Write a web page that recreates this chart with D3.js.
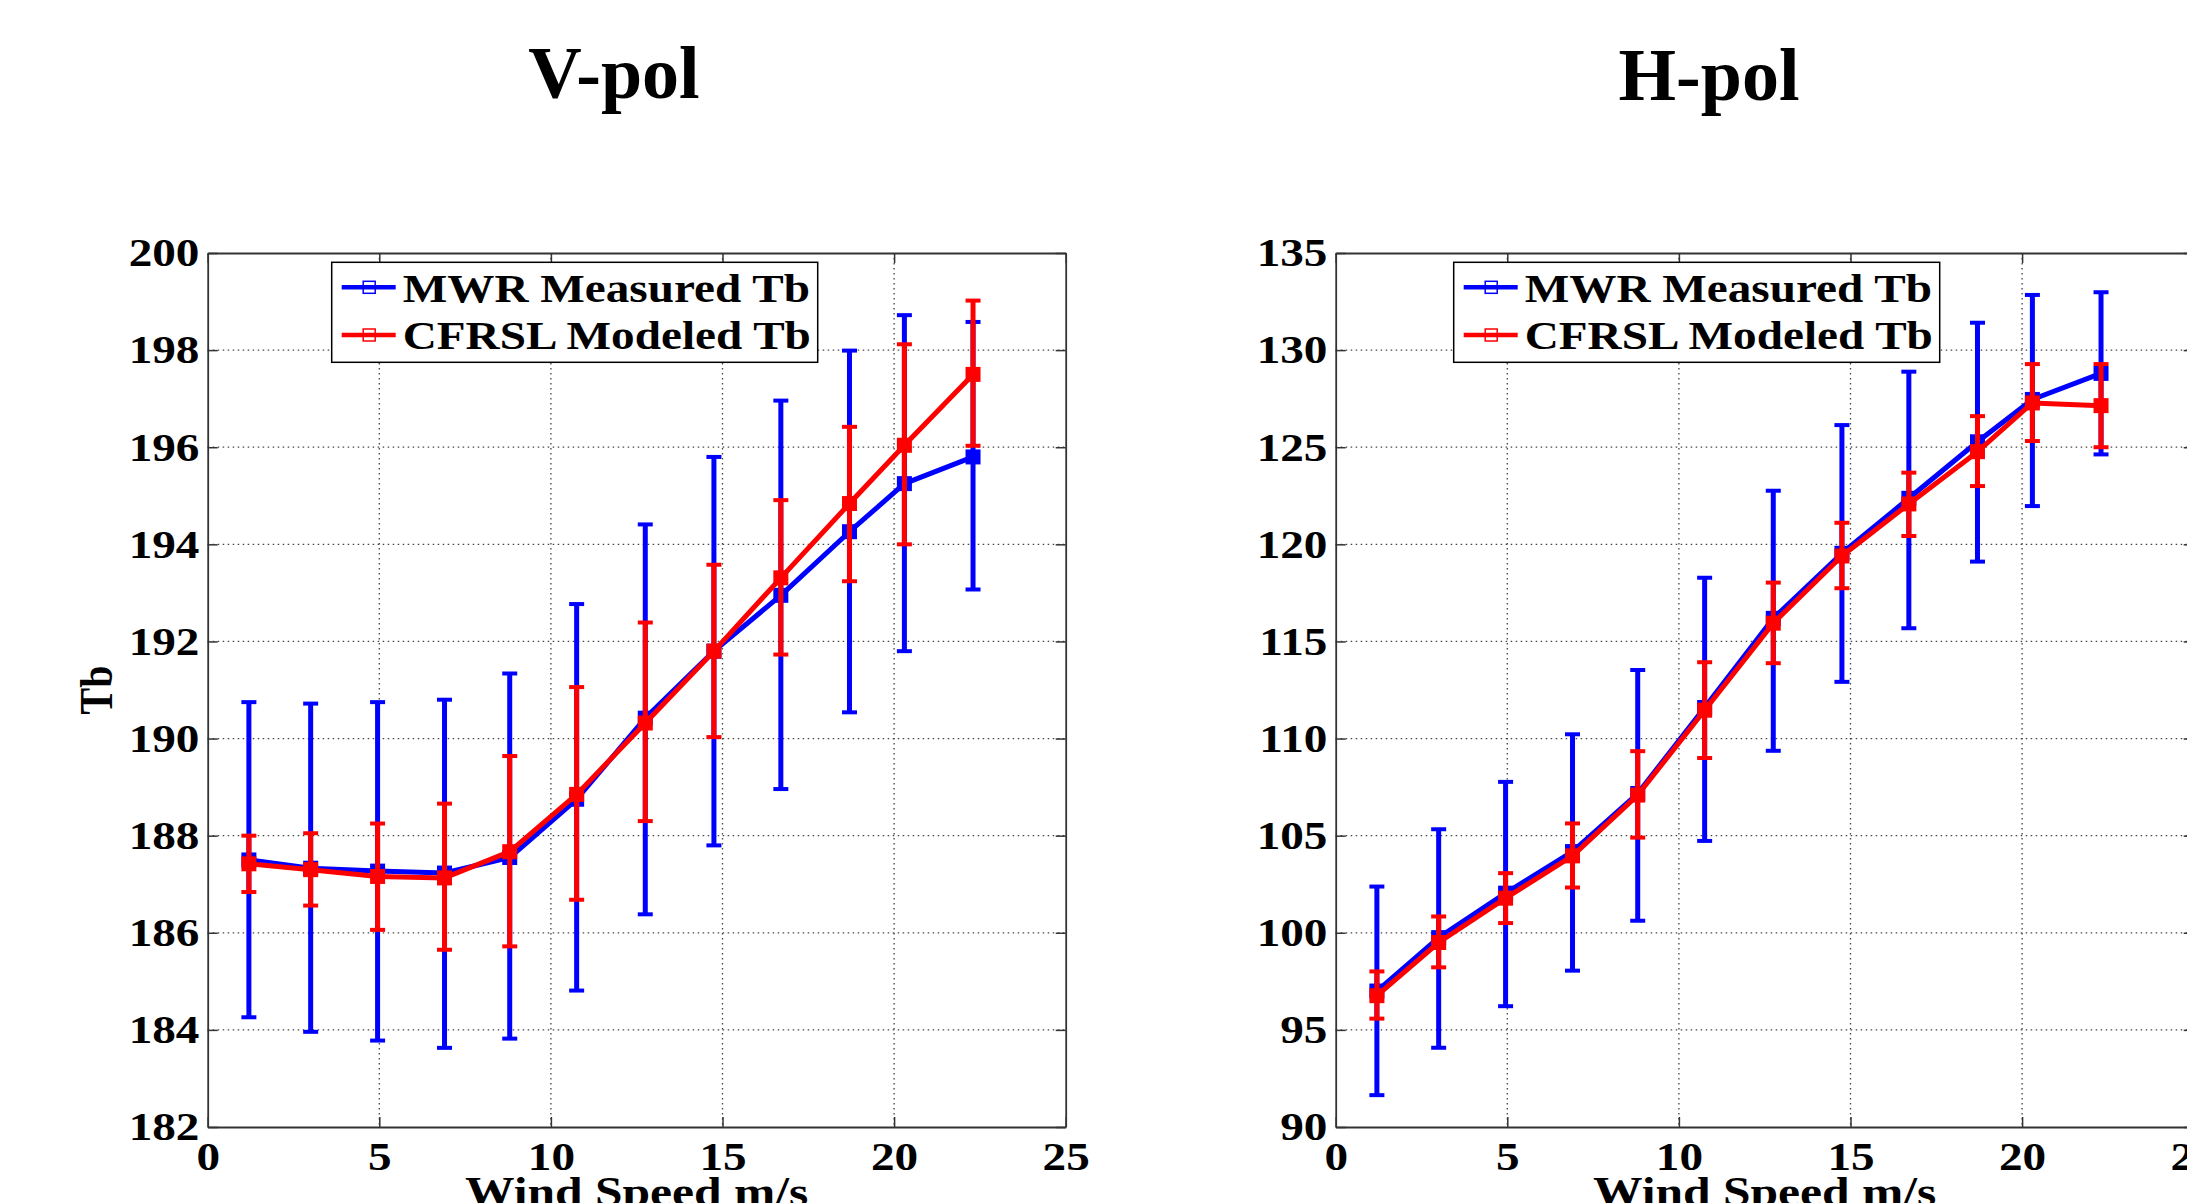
<!DOCTYPE html>
<html>
<head>
<meta charset="utf-8">
<script src="https://cdn.jsdelivr.net/npm/d3@7"></script>
<style>
  body { margin: 0; background: #fff; overflow: hidden; }
  text { font-family: "Liberation Serif", "Times New Roman", serif; font-weight: bold; }
</style>
</head>
<body>
<div id="chart-area"></div>
<script>
const FIGURE = {
    WIDTH: 2187,
    HEIGHT: 1203
};
const PLOT = {
    TOP: 253,
    BOTTOM: 1127,
    WIDTH: 858
};
// text inside the matlab figure looks stretched sideways
const STRETCH = 1.18;

// data
const windSpeed = [1.2, 3.0, 4.95, 6.9, 8.8, 10.75, 12.75, 14.75, 16.7, 18.7, 20.3, 22.3];
const xTicks = [0, 5, 10, 15, 20, 25];

const vTicks = [182, 184, 186, 188, 190, 192, 194, 196, 198, 200];
const vMwrTb   = [187.5, 187.33, 187.27, 187.23, 187.55, 188.75, 190.42, 191.8, 192.95, 194.26, 195.25, 195.8];
const vMwrLow  = [184.26, 183.96, 183.78, 183.63, 183.82, 184.81, 186.38, 187.8, 188.96, 190.54, 191.8, 193.07];
const vMwrHigh = [190.75, 190.72, 190.75, 190.8, 191.34, 192.77, 194.41, 195.8, 196.96, 197.99, 198.72, 198.58];
const vModTb   = [187.42, 187.3, 187.16, 187.13, 187.67, 188.85, 190.32, 191.8, 193.31, 194.84, 196.04, 197.5];
const vModLow  = [186.84, 186.56, 186.06, 185.65, 185.72, 186.68, 188.3, 190.03, 191.73, 193.24, 194.0, 196.03];
const vModHigh = [188.0, 188.05, 188.25, 188.66, 189.64, 191.06, 192.39, 193.58, 194.91, 196.42, 198.12, 199.02];

const hTicks = [90, 95, 100, 105, 110, 115, 120, 125, 130, 135];
const hMwrTb   = [97.0, 99.75, 102.04, 104.18, 107.17, 111.6, 116.19, 119.54, 122.37, 125.28, 127.46, 128.8];
const hMwrLow  = [91.64, 94.08, 96.22, 98.05, 100.62, 104.73, 109.37, 112.92, 115.68, 119.11, 121.97, 124.63];
const hMwrHigh = [102.38, 105.33, 107.77, 110.22, 113.53, 118.28, 122.76, 126.14, 128.89, 131.41, 132.84, 132.98];
const hModTb   = [96.76, 99.5, 101.78, 103.96, 107.09, 111.46, 115.94, 119.4, 122.08, 124.77, 127.28, 127.14];
const hModLow  = [95.58, 98.22, 100.5, 102.33, 104.9, 109.0, 113.88, 117.74, 120.43, 123.0, 125.32, 125.0];
const hModHigh = [98.01, 100.84, 103.07, 105.63, 109.35, 113.93, 118.03, 121.11, 123.69, 126.6, 129.28, 129.28];

const seriesNames = ["MWR Measured Tb", "CFRSL Modeled Tb"];
const seriesColors = ["#0000ff", "#ff0000"];

const panels = [
    {
        title: "V-pol", titleX: 614, titleY: 98,
        left: 207.7, legendDx: 124, yLabel: "Tb",
        domain: [182, 200], ticks: vTicks,
        series: [
            { mean: vMwrTb, low: vMwrLow, high: vMwrHigh },
            { mean: vModTb, low: vModLow, high: vModHigh }
        ]
    },
    {
        title: "H-pol", titleX: 1709, titleY: 100,
        left: 1335.7, legendDx: 118, yLabel: null,
        domain: [90, 135], ticks: hTicks,
        series: [
            { mean: hMwrTb, low: hMwrLow, high: hMwrHigh },
            { mean: hModTb, low: hModLow, high: hModHigh }
        ]
    }
];

let svg = d3.select("#chart-area")
    .append("svg")
        .attr("width", FIGURE.WIDTH)
        .attr("height", FIGURE.HEIGHT);

function styleAxis(sel) {
    sel.attr("font-size", 40).attr("fill", "#000");
    sel.select(".domain").attr("stroke", "#333").attr("stroke-width", 1.8);
    sel.selectAll(".tick line").attr("stroke", "#333").attr("stroke-width", 1.5);
    sel.selectAll(".tick text").attr("fill", "#000");
}

function drawPanel(p) {
    let x = d3.scaleLinear().domain([0, 25]).range([p.left, p.left + PLOT.WIDTH]);
    let y = d3.scaleLinear().domain(p.domain).range([PLOT.BOTTOM, PLOT.TOP]);
    let g = svg.append("g");

    // dotted grid
    g.append("g").selectAll("line")
        .data(xTicks.slice(1, -1))
        .enter().append("line")
            .attr("x1", d => x(d)).attr("x2", d => x(d))
            .attr("y1", PLOT.TOP).attr("y2", PLOT.BOTTOM)
            .attr("stroke", "#444").attr("stroke-width", 1.3)
            .attr("stroke-dasharray", "1.5,3.5");
    g.append("g").selectAll("line")
        .data(p.ticks.slice(1, -1))
        .enter().append("line")
            .attr("x1", p.left).attr("x2", p.left + PLOT.WIDTH)
            .attr("y1", d => y(d)).attr("y2", d => y(d))
            .attr("stroke", "#444").attr("stroke-width", 1.3)
            .attr("stroke-dasharray", "1.5,3.5");

    // axes, ticks pointing inwards on all four sides
    g.append("g")
        .attr("transform", `translate(0, ${PLOT.BOTTOM})`)
        .call(d3.axisBottom(x).tickValues(xTicks).tickSizeInner(-10).tickSizeOuter(0).tickPadding(15))
        .call(styleAxis)
        .selectAll(".tick text").attr("transform", `scale(${STRETCH},1)`);
    g.append("g")
        .attr("transform", `translate(0, ${PLOT.TOP})`)
        .call(d3.axisTop(x).tickValues(xTicks).tickSizeInner(-10).tickSizeOuter(0).tickFormat(() => ""))
        .call(styleAxis);
    g.append("g")
        .attr("transform", `translate(${p.left}, 0)`)
        .call(d3.axisLeft(y).tickValues(p.ticks).tickSizeInner(-10).tickSizeOuter(0).tickPadding(7))
        .call(styleAxis)
        .selectAll(".tick text").attr("transform", `scale(${STRETCH},1)`);
    g.append("g")
        .attr("transform", `translate(${p.left + PLOT.WIDTH}, 0)`)
        .call(d3.axisRight(y).tickValues(p.ticks).tickSizeInner(-10).tickSizeOuter(0).tickFormat(() => ""))
        .call(styleAxis);

    // error bars, lines and markers
    p.series.forEach((s, k) => {
        let color = seriesColors[k];
        let idx = d3.range(windSpeed.length);
        let eb = g.append("g").selectAll("g")
            .data(idx)
            .enter().append("g");
        eb.append("line")
            .attr("x1", i => x(windSpeed[i])).attr("x2", i => x(windSpeed[i]))
            .attr("y1", i => y(s.low[i])).attr("y2", i => y(s.high[i]))
            .attr("stroke", color).attr("stroke-width", 5);
        ["low", "high"].forEach(end => {
            eb.append("line")
                .attr("x1", i => x(windSpeed[i]) - 7.5).attr("x2", i => x(windSpeed[i]) + 7.5)
                .attr("y1", i => y(s[end][i])).attr("y2", i => y(s[end][i]))
                .attr("stroke", color).attr("stroke-width", 4);
        });
        let line = d3.line()
            .x(i => x(windSpeed[i]))
            .y(i => y(s.mean[i]));
        g.append("path")
            .datum(idx)
            .attr("d", line)
            .attr("fill", "none")
            .attr("stroke", color)
            .attr("stroke-width", 5)
            .attr("stroke-linejoin", "round");
        g.append("g").selectAll("rect")
            .data(idx)
            .enter().append("rect")
                .attr("x", i => x(windSpeed[i]) - 6.5)
                .attr("y", i => y(s.mean[i]) - 6.5)
                .attr("width", 13).attr("height", 13)
                .attr("fill", color).attr("stroke", color).attr("stroke-width", 2);
    });

    // legend
    let lx = p.left + p.legendDx;
    let legend = g.append("g").attr("transform", `translate(${lx}, 262.3)`);
    legend.append("rect")
        .attr("width", 486).attr("height", 100)
        .attr("fill", "#fff").attr("stroke", "#000").attr("stroke-width", 1.5);
    seriesNames.forEach((name, k) => {
        let ry = k === 0 ? 25 : 72.7;
        legend.append("line")
            .attr("x1", 10).attr("x2", 64).attr("y1", ry).attr("y2", ry)
            .attr("stroke", seriesColors[k]).attr("stroke-width", 4.5);
        legend.append("rect")
            .attr("x", 31.5).attr("y", ry - 6).attr("width", 12).attr("height", 12)
            .attr("fill", "none").attr("stroke", seriesColors[k]).attr("stroke-width", 1.5);
        legend.append("text")
            .attr("transform", `translate(71, ${ry + 14.4}) scale(${STRETCH},1)`)
            .attr("font-size", 40)
            .text(name);
    });

    // labels
    svg.append("text")
        .attr("x", p.titleX).attr("y", p.titleY)
        .attr("text-anchor", "middle")
        .attr("font-size", 74)
        .text(p.title);
    svg.append("text")
        .attr("transform", `translate(${p.left + PLOT.WIDTH / 2}, 1206) scale(${STRETCH},1)`)
        .attr("text-anchor", "middle")
        .attr("font-size", 42)
        .text("Wind Speed m/s");
    if (p.yLabel) {
        svg.append("text")
            .attr("transform", `translate(111.7, ${(PLOT.TOP + PLOT.BOTTOM) / 2}) scale(${STRETCH},1) rotate(-90)`)
            .attr("text-anchor", "middle")
            .attr("font-size", 40)
            .text(p.yLabel);
    }
}

panels.forEach(drawPanel);
</script>
</body>
</html>
